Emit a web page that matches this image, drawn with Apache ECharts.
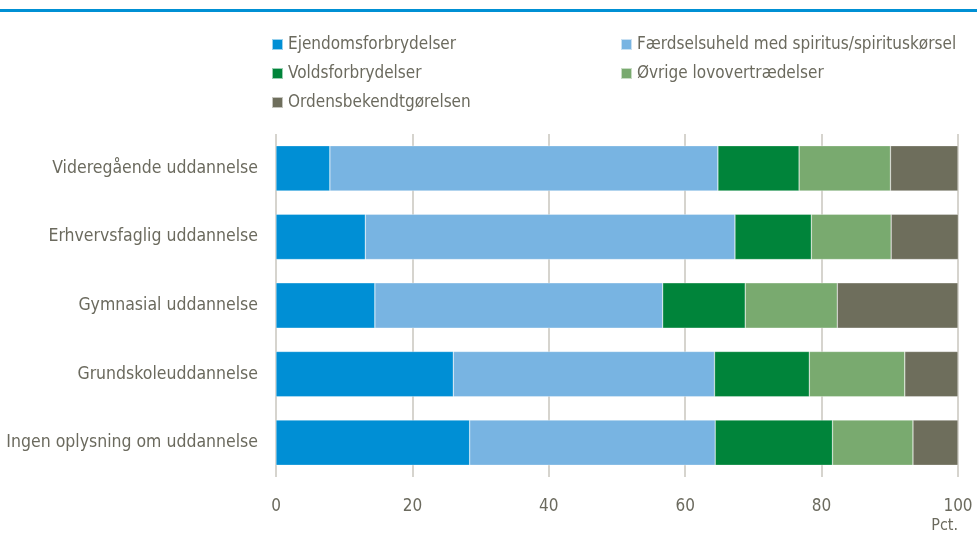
<!DOCTYPE html>
<html><head><meta charset="utf-8">
<script src="https://cdn.jsdelivr.net/npm/echarts@6/dist/echarts.min.js"></script>
<style>html,body{margin:0;padding:0;background:#fff}#c{width:977px;height:539px}</style>
</head><body><div id="c"></div>
<script>
const categories = ["Videregående uddannelse","Erhvervsfaglig uddannelse","Gymnasial uddannelse","Grundskoleuddannelse","Ingen oplysning om uddannelse"];
const seriesNames = ["Ejendomsforbrydelser","Færdselsuheld med spiritus/spirituskørsel","Voldsforbrydelser","Øvrige lovovertrædelser","Ordensbekendtgørelsen"];
const ejendoms = [7.9, 13.1, 14.5, 26.0, 28.4];
const faerdsel = [56.9, 54.2, 42.2, 38.3, 36.0];
const volds = [11.9, 11.2, 12.1, 13.9, 17.2];
const oevrige = [13.4, 11.7, 13.5, 14.0, 11.8];
const ordens = [9.9, 9.9, 17.7, 7.8, 6.6];
const xTicks = [0, 20, 40, 60, 80, 100];
const colors = ["#008fd5","#78b4e2","#00843a","#79aa6f","#6e6e5c"];
const FONT = "'Liberation Sans Narrow','Arial Narrow','DejaVu Sans Condensed',sans-serif";
const TXT = "#6b6a5e";
const values = [ejendoms, faerdsel, volds, oevrige, ordens];
const chart = echarts.init(document.getElementById('c'), null, {renderer:'canvas'});
chart.setOption({
  animation:false,
  textStyle:{fontFamily:FONT},
  graphic:[
    {type:'rect', left:0, top:9, shape:{width:977, height:3}, style:{fill:'#0090d4'}},
    {type:'text', right:19, top:518, style:{text:'Pct.', fill:TXT, font:"16px "+FONT}}
  ],
  legend:[
    {orient:'vertical', left:271, top:36, padding:0, itemWidth:11, itemHeight:11, itemGap:12, icon:'rect',
     data:[seriesNames[0],seriesNames[2],seriesNames[4]],
     textStyle:{color:TXT, fontSize:17, fontFamily:FONT}},
    {orient:'vertical', left:620, top:36, padding:0, itemWidth:11, itemHeight:11, itemGap:12, icon:'rect',
     data:[seriesNames[1],seriesNames[3]],
     textStyle:{color:TXT, fontSize:17, fontFamily:FONT}}
  ],
  grid:{left:276, right:19, top:134, height:343, containLabel:false},
  xAxis:{type:'value', min:0, max:100, interval:20,
    axisLine:{show:false}, axisTick:{show:false},
    splitLine:{show:true, lineStyle:{color:'#c8c6be', width:1.5}},
    axisLabel:{color:TXT, fontSize:17, fontFamily:FONT, margin:21,
      formatter: v => xTicks.includes(v) ? String(v) : ''}},
  yAxis:{type:'category', data:categories, inverse:true,
    axisLine:{show:false}, axisTick:{show:false},
    axisLabel:{color:TXT, fontSize:17.5, fontFamily:FONT, margin:18}},
  series: seriesNames.map((n,i)=>({
    name:n, type:'bar', stack:'s', data:values[i], barCategoryGap:'34%',
    itemStyle:{color:colors[i], borderColor:'rgba(255,255,255,0.6)', borderWidth:0.5}
  }))
});
</script></body></html>
